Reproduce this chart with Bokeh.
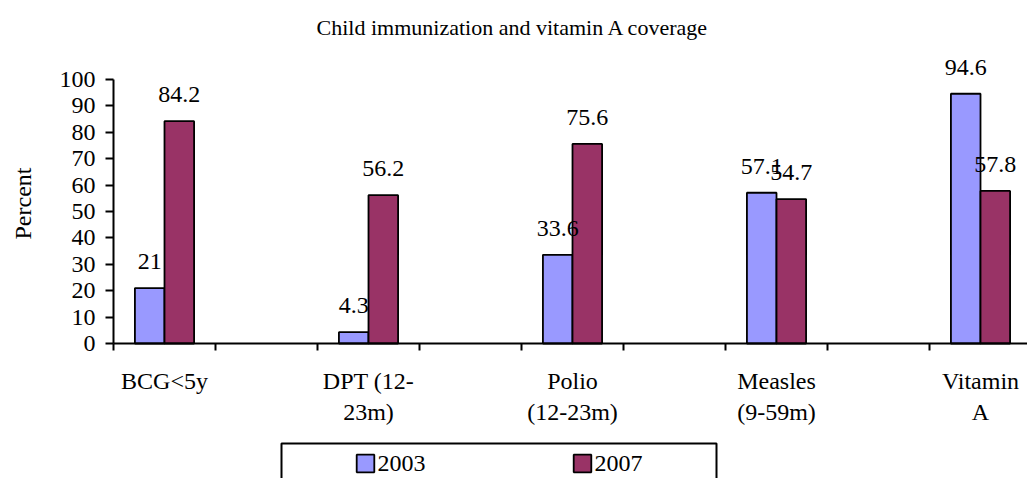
import math
from bokeh.plotting import figure
from bokeh.models import (ColumnDataSource, LabelSet, Legend, LegendItem,
                          FixedTicker, Label, BoxAnnotation, Range1d)
from bokeh.core.properties import value
from bokeh.embed import file_html
from bokeh.resources import INLINE

title_text = "Child immunization and vitamin A coverage"
y_label = "Percent"
categories = ["BCG<5y", "DPT (12-\n23m)", "Polio\n(12-23m)", "Measles\n(9-59m)", "Vitamin\nA"]
series_names = ["2003", "2007"]
values_2003 = [21, 4.3, 33.6, 57.1, 94.6]
values_2007 = [84.2, 56.2, 75.6, 54.7, 57.8]
series_colors = ["#9999FF", "#993366"]
y_ticks = [0, 10, 20, 30, 40, 50, 60, 70, 80, 90, 100]

FONT = "Liberation Serif"
W, H = 1027, 478
LEFT = 113          # y axis position in px
ZERO_Y = 343        # px of value 0 from top
TOP_Y = 79          # px of value 100 from top
UNIT = 102.0        # px per slot on x
slot = 2.0
centers = [slot * i + 0.5 for i in range(len(categories))]
boundaries = [float(i) for i in range(10)]
bar_w = 0.29
dodge = bar_w / 2

ppu = (ZERO_Y - TOP_Y) / 100.0
y_lo = -(H - ZERO_Y) / ppu
y_hi = 100 + TOP_Y / ppu
x_lo = -LEFT / UNIT
x_hi = (W - LEFT) / UNIT

p = figure(width=W, height=H, x_range=Range1d(x_lo, x_hi), y_range=Range1d(y_lo, y_hi),
           output_backend="svg", toolbar_location=None,
           min_border_left=0, min_border_right=0, min_border_top=0, min_border_bottom=0,
           outline_line_color=None, background_fill_color="white", border_fill_color="white")
p.xgrid.visible = False
p.ygrid.visible = False

renderers = []
for vals, off, col in [(values_2003, -dodge, series_colors[0]), (values_2007, dodge, series_colors[1])]:
    src = ColumnDataSource(dict(x=[c + off for c in centers], top=vals,
                                label=[f"{v:g}" for v in vals]))
    r = p.vbar(x="x", top="top", bottom=0, width=bar_w, source=src,
               fill_color=col, line_color="black", line_width=1.8)
    renderers.append(r)
    p.add_layout(LabelSet(x="x", y="top", text="label", source=src, text_align="center",
                          text_baseline="alphabetic", y_offset=19, text_font=value(FONT),
                          text_font_size="24px", text_color="black"))

yax = p.yaxis[0]
yax.fixed_location = 0
yax.ticker = FixedTicker(ticks=y_ticks)
yax.bounds = (0, 100)
yax.major_tick_out = 8
yax.major_tick_in = 0
yax.minor_tick_out = 0
yax.minor_tick_in = 0
yax.axis_line_width = 2
yax.major_tick_line_width = 2
yax.major_label_text_font = FONT
yax.major_label_text_font_size = "24px"
yax.major_label_text_color = "black"
yax.major_label_standoff = 10

xax = p.xaxis[0]
xax.fixed_location = 0
xax.bounds = (0, x_hi)
xax.ticker = FixedTicker(ticks=centers, minor_ticks=boundaries)
xax.major_label_overrides = {c: lab for c, lab in zip(centers, categories)}
xax.major_tick_out = 0
xax.major_tick_in = 0
xax.minor_tick_out = 7
xax.minor_tick_in = 0
xax.minor_tick_line_width = 2
xax.minor_tick_line_color = "black"
xax.axis_line_width = 2
xax.major_label_text_font = FONT
xax.major_label_text_font_size = "24px"
xax.major_label_text_color = "black"
xax.major_label_standoff = 17

# y axis title (screen units relative to the plotting frame)
p.add_layout(Label(x=22, y=H - 203, x_units="screen", y_units="screen", text=y_label,
                   angle=math.pi / 2, text_align="center", text_baseline="middle",
                   text_font=FONT, text_font_size="24px", text_color="black"))

# chart title
p.add_layout(Label(x=512.5, y=H - 27, x_units="screen", y_units="screen", text=title_text,
                   text_align="center", text_baseline="alphabetic", text_font=FONT,
                   text_font_size="22px", text_color="black"))

# legend box
p.add_layout(BoxAnnotation(left=281, right=716, top=H - 443, bottom=-20,
                           left_units="screen", right_units="screen",
                           top_units="screen", bottom_units="screen",
                           fill_alpha=0, line_color="black", line_alpha=1, line_width=2))

legend = Legend(items=[LegendItem(label=series_names[0], renderers=[renderers[0]]),
                       LegendItem(label=series_names[1], renderers=[renderers[1]])],
                orientation="horizontal", location=(353.5, H - 463 - 14),
                glyph_width=22, glyph_height=22, label_standoff=2, spacing=133,
                label_width=60, label_height=28, padding=0, margin=0, border_line_color=None,
                background_fill_alpha=0, label_text_font=FONT, label_text_font_size="24px",
                label_text_color="black")
p.add_layout(legend, "center")

open("out.html", "w").write(file_html(p, INLINE))
